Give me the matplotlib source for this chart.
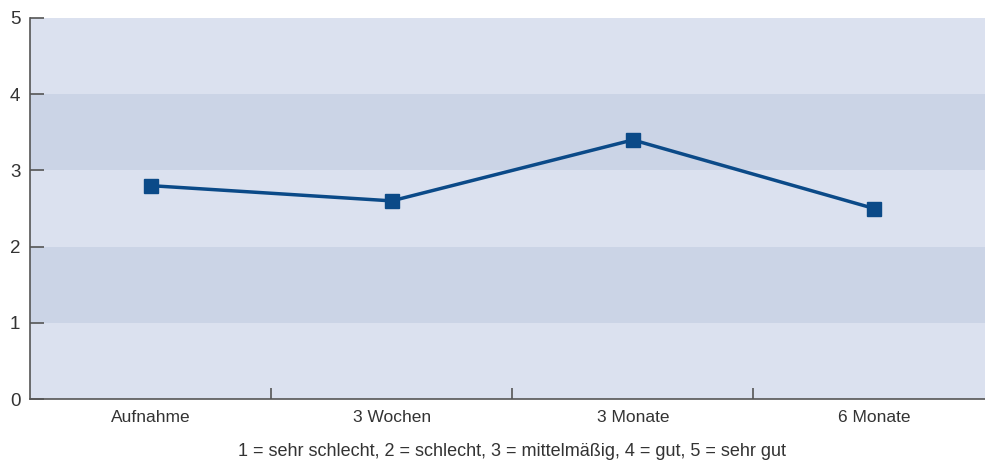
import matplotlib
matplotlib.use("Agg")
import matplotlib.pyplot as plt
from matplotlib.ticker import FixedLocator, NullFormatter

categories = ["Aufnahme", "3 Wochen", "3 Monate", "6 Monate"]
values = [2.8, 2.6, 3.4, 2.5]
y_ticks = [0, 1, 2, 3, 4, 5]
footer = "1 = sehr schlecht, 2 = schlecht, 3 = mittelmäßig, 4 = gut, 5 = sehr gut"

plt.rcParams['font.family'] = ['Liberation Sans', 'DejaVu Sans']

W, H = 985, 463
fig = plt.figure(figsize=(W / 100, H / 100), dpi=100)
ax = fig.add_axes([30 / W, (H - 399) / H, (W - 30) / W, 381 / H])

light = "#dbe1ef"
dark = "#cbd4e6"
for i in range(5):
    ax.axhspan(i, i + 1, color=dark if i % 2 == 1 else light, zorder=0, lw=0)

x = list(range(len(categories)))
ax.plot(x, values, color="#0b4a88", lw=2.5, marker="s", markersize=10,
        markerfacecolor="#0b4a88", markeredgecolor="#0b4a88", zorder=3)

ax.set_xlim(-0.5, 3.46)
ax.set_ylim(0, 5)
for s in ["top", "right"]:
    ax.spines[s].set_visible(False)
for s in ["left", "bottom"]:
    ax.spines[s].set_color("#555555")
    ax.spines[s].set_linewidth(1.2)

ax.set_yticks(y_ticks)
ax.set_yticklabels([str(v) for v in y_ticks], fontsize=13.5, color="#333333")
ax.tick_params(axis="y", direction="in", length=10, width=1.2, color="#555555", pad=7)

ax.set_xticks(x)
ax.set_xticklabels(categories, fontsize=12.5, color="#333333")
ax.tick_params(axis="x", which="major", length=0, pad=8)
ax.xaxis.set_minor_locator(FixedLocator([0.5, 1.5, 2.5]))
ax.xaxis.set_minor_formatter(NullFormatter())
ax.tick_params(axis="x", which="minor", direction="in", length=8, width=1.2, color="#555555")

fig.text(512 / W, 1 - 452 / H, footer, ha="center", va="center", fontsize=13, color="#333333")

fig.savefig("out.png", dpi=100)
